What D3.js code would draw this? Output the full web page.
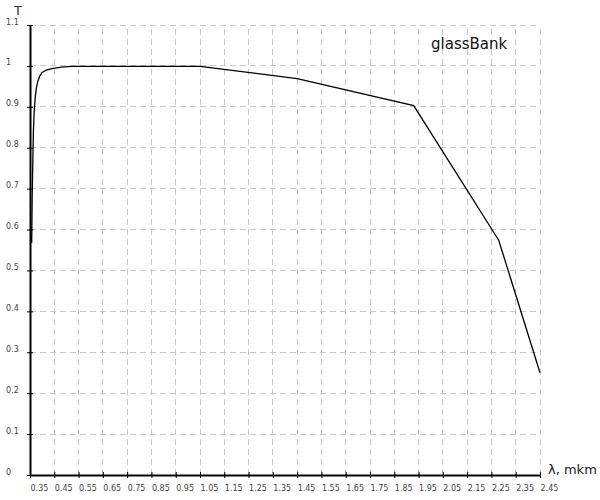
<!DOCTYPE html>
<html>
<head>
<meta charset="utf-8">
<script src="https://cdn.jsdelivr.net/npm/d3@7"></script>
<style>
  body { margin: 0; background: #fff; }
  svg { display: block; }
</style>
</head>
<body>
<svg id="chart" width="600" height="500"></svg>
<script>
// Data
const wavelength = [0.356, 0.357, 0.359, 0.362, 0.364, 0.367, 0.371, 0.376, 0.382, 0.39, 0.4, 0.417, 0.445, 0.48, 0.52, 1.05, 1.45, 1.93, 2.28, 2.45];
const transmittance = [0.58, 0.567, 0.68, 0.78, 0.84, 0.885, 0.92, 0.945, 0.962, 0.975, 0.984, 0.99, 0.994, 0.997, 0.999, 0.999, 0.969, 0.903, 0.574, 0.25];
const xTicks = [0.35, 0.45, 0.55, 0.65, 0.75, 0.85, 0.95, 1.05, 1.15, 1.25, 1.35, 1.45, 1.55, 1.65, 1.75, 1.85, 1.95, 2.05, 2.15, 2.25, 2.35, 2.45];
const yTicks = [0, 0.1, 0.2, 0.3, 0.4, 0.5, 0.6, 0.7, 0.8, 0.9, 1, 1.1];
const seriesName = "glassBank";
const xTitle = "λ, mkm";
const yTitle = "T";

const svg = d3.select("#chart");
const x = d3.scaleLinear().domain([0.35, 2.45]).range([30, 540]);
const y = d3.scaleLinear().domain([0, 1.1]).range([475, 25]);
const font = "DejaVu Sans, Verdana, sans-serif";

// grid
const grid = svg.append("g");
grid.selectAll("line.v").data(xTicks.slice(1)).join("line")
  .attr("x1", d => x(d)).attr("x2", d => x(d))
  .attr("y1", y(0)).attr("y2", y(1.1))
  .attr("stroke", "#c8c8c8").attr("stroke-width", 1).attr("stroke-dasharray", "6,4")
  .attr("shape-rendering", "crispEdges");
grid.selectAll("line.h").data(yTicks.slice(1)).join("line")
  .attr("x1", x(0.35)).attr("x2", x(2.45))
  .attr("y1", d => y(d)).attr("y2", d => y(d))
  .attr("stroke", "#c8c8c8").attr("stroke-width", 1).attr("stroke-dasharray", "6,4")
  .attr("shape-rendering", "crispEdges");

// x axis
const xAxis = svg.append("g").attr("transform", `translate(0,${y(0)})`)
  .call(d3.axisBottom(x).tickValues(xTicks).tickSize(3).tickSizeOuter(0).tickFormat(d3.format(".2f")));
xAxis.select(".domain").attr("stroke", "#000").attr("stroke-width", 2);
xAxis.selectAll(".tick line").attr("y1", -3).attr("y2", 3).attr("stroke", "#000");
xAxis.selectAll(".tick text")
  .attr("text-anchor", "start").attr("y", 16).attr("dy", 0)
  .attr("font-family", font).attr("font-size", 8).attr("fill", "#444");

// y axis
const yAxis = svg.append("g").attr("transform", `translate(${x(0.35)},0)`)
  .call(d3.axisLeft(y).tickValues(yTicks).tickSize(3).tickSizeOuter(0).tickFormat(d => d3.format("")(+d.toFixed(1))));
yAxis.select(".domain").attr("stroke", "#000").attr("stroke-width", 2);
yAxis.selectAll(".tick line").attr("x1", -3).attr("x2", 3).attr("stroke", "#000");
yAxis.selectAll(".tick text")
  .attr("text-anchor", "start").attr("x", -24).attr("dy", -1)
  .attr("font-family", font).attr("font-size", 8).attr("fill", "#444");

// titles
svg.append("text").attr("x", 18).attr("y", 15).attr("text-anchor", "middle")
  .attr("font-family", font).attr("font-size", 13).attr("fill", "#333").text(yTitle);
svg.append("text").attr("x", 548).attr("y", 474)
  .attr("font-family", font).attr("font-size", 13).attr("fill", "#222").text(xTitle);
svg.append("text").attr("x", 431).attr("y", 49)
  .attr("font-family", font).attr("font-size", 15).attr("fill", "#111").text(seriesName);

// curve
const pts = wavelength.map((w, i) => [w, transmittance[i]]);
svg.append("path").datum(pts)
  .attr("fill", "none").attr("stroke", "#000").attr("stroke-width", 1.3)
  .attr("d", d3.line().x(d => x(d[0])).y(d => y(d[1])));
</script>
</body>
</html>
